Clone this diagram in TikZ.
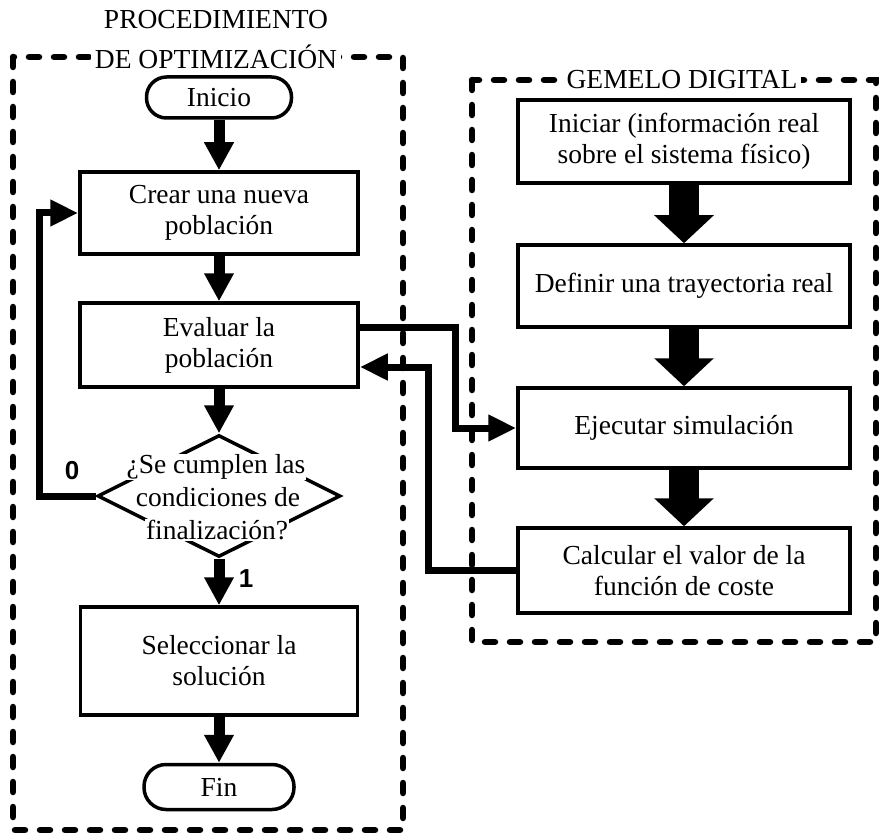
\documentclass[tikz,border=0pt]{standalone}
\usepackage{fontspec}
\setmainfont{Liberation Serif}
\newfontfamily\labelfont{Liberation Sans}
\usetikzlibrary{arrows.meta,shapes.geometric}
\begin{document}
\begin{tikzpicture}[x=1pt,y=-1pt,
  box/.style={draw,line width=3.5pt,fill=white,align=center,inner sep=0pt,font=\fontsize{27.5}{31}\selectfont},
  term/.style={box,rounded corners=20pt},
  grp/.style={draw,line width=6.5pt,line cap=round,dash pattern=on 10pt off 15pt},
  grptitle/.style={fill=white,inner sep=4pt,font=\fontsize{27.5}{31}\selectfont},
  flow/.style={line width=11pt,-{Triangle[width=28pt,length=28pt]}},
  bigflow/.style={line width=30pt,-{Triangle[width=58pt,length=28pt]}},
  conn/.style={line width=7pt,-{Triangle[width=25pt,length=28pt]}},
  lab/.style={font=\labelfont\bfseries\fontsize{26}{26}\selectfont},
  dtext/.style={fill=white,inner sep=1pt,font=\fontsize{27.5}{31}\selectfont}
]
\useasboundingbox (0,0) rectangle (880,834);

% group frames
\draw[grp] (13,57) rectangle (403,830);
\draw[grp] (472,80) rectangle (876,642);
\node[font=\fontsize{27.5}{31}\selectfont] (t1) at (216,20) {PROCEDIMIENTO};
\node[grptitle] (t2) at (216,57) {DE OPTIMIZACIÓN};
\node[grptitle] (t3) at (682,80) {GEMELO DIGITAL};

% left column
\node[term, minimum width=145pt, minimum height=41pt] (ini) at (219,97.5) {Inicio};
\node[box, minimum width=278pt, minimum height=82pt] (cre) at (219,213) {Crear una nueva\\población};
\node[box, minimum width=278pt, minimum height=84pt] (eva) at (219,345) {Evaluar la\\población};
\node[draw,line width=3.5pt,shape=diamond,minimum width=243pt,minimum height=122pt,inner sep=0pt] (dec) at (219,496) {};
\node[dtext] (q1) at (216,467) {¿Se cumplen las};
\node[dtext] (q2) at (218,497) {condiciones de};
\node[dtext] (q3) at (217,530) {finalización?};
\node[box, minimum width=277pt, minimum height=108pt] (sel) at (219,661) {Seleccionar la\\solución};
\node[term, minimum width=150pt, minimum height=45pt, rounded corners=22pt] (fin) at (219,787) {Fin};

% right column
\node[box, minimum width=332pt, minimum height=83pt] (ina) at (684,141.5) {Iniciar (información real\\sobre el sistema físico)};
\node[box, minimum width=332pt, minimum height=82pt] (def) at (684,286) {Definir una trayectoria real};
\node[box, minimum width=332pt, minimum height=80pt] (eje) at (684,428) {Ejecutar simulación};
\node[box, minimum width=332pt, minimum height=85pt] (cal) at (684,570.5) {Calcular el valor de la\\función de coste};

% left flow
\draw[flow] (ini.south) -- (cre.north);
\draw[flow] (cre.south) -- (eva.north);
\draw[flow] (eva.south) -- (dec.north);
\draw[flow] (dec.south) -- (sel.north);
\draw[flow] (sel.south) -- (fin.north);

% right flow
\draw[bigflow] (ina.south) -- (def.north);
\draw[bigflow] (def.south) -- (eje.north);
\draw[bigflow] (eje.south) -- (cal.north);

% connectors
\draw[conn] ([yshift=18pt]eva.east) -- ++(96,0) |- (eje.west);
\draw[conn] (cal.west) -- ++(-88,0) |- ([yshift=-22pt]eva.east);
\draw[conn] (dec.west) -- ++(-56,0) |- (cre.west);

\node[lab] (l0) at (72,471) {0};
\node[lab] (l1) at (246,579) {1};
\end{tikzpicture}
\end{document}
